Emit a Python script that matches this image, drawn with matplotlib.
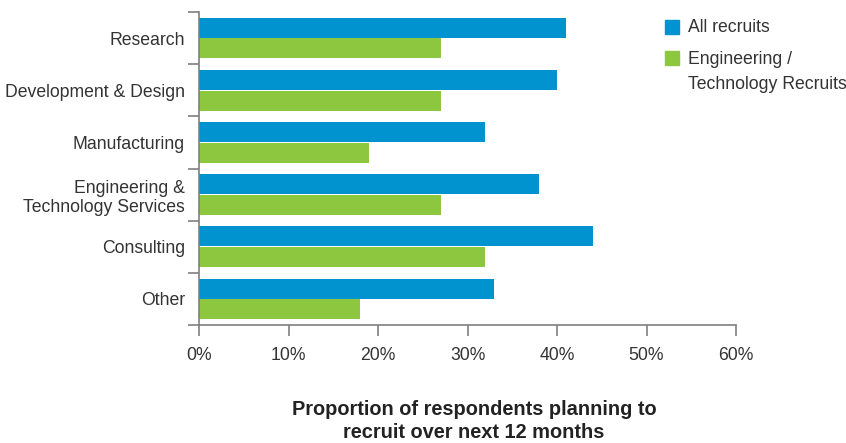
import numpy as np
import matplotlib
matplotlib.use("Agg")
import matplotlib.pyplot as plt
from matplotlib.patches import Rectangle

plt.rcParams['font.family'] = ['Liberation Sans', 'DejaVu Sans']

categories = ["Research", "Development & Design", "Manufacturing",
              "Engineering &\nTechnology Services", "Consulting", "Other"]
all_recruits = [41, 40, 32, 38, 44, 33]
eng_recruits = [27, 27, 19, 27, 32, 18]
xticks = [0, 10, 20, 30, 40, 50, 60]
xtick_labels = ["0%", "10%", "20%", "30%", "40%", "50%", "60%"]
legend_labels = ["All recruits", "Engineering /\nTechnology Recruits"]

BLUE = "#0093D0"
GREEN = "#8DC63F"
GREY = "#7f7f7f"
TEXT = "#333333"

W, H = 846, 443
fig = plt.figure(figsize=(W / 100, H / 100), dpi=100)
ax = fig.add_axes([199/W, 1 - 325/H, (736 - 199)/W, (325 - 12)/H])

y = np.arange(len(categories))
h = 0.385
ax.barh(y - h/2 - 0.005, all_recruits, height=h, color=BLUE)
ax.barh(y + h/2 + 0.005, eng_recruits, height=h, color=GREEN)

ax.set_xlim(0, 60)
ax.set_ylim(len(categories) - 0.5, -0.5)
ax.set_xticks(xticks)
ax.set_xticklabels(xtick_labels, fontsize=12.7, color=TEXT)

# category labels centred, ticks at the group boundaries
ax.set_yticks(y)
ax.set_yticklabels(categories, fontsize=12.7, color=TEXT, ha='right',
                   multialignment='right')
ax.tick_params(axis='y', length=0, pad=10)
ax.set_yticks(np.arange(len(categories) + 1) - 0.5, minor=True)
ax.tick_params(axis='y', which='minor', length=8, color=GREY, width=1.2)
ax.tick_params(axis='x', length=8, color=GREY, width=1.2, pad=8)

for s in ['top', 'right']:
    ax.spines[s].set_visible(False)
for s in ['left', 'bottom']:
    ax.spines[s].set_color(GREY)
    ax.spines[s].set_linewidth(1.2)

fig.text(474/W, 1 - 421/H, "Proportion of respondents planning to\nrecruit over next 12 months",
         ha='center', va='center', fontsize=14.4, fontweight='bold', color='#222222',
         linespacing=1.25)

# legend drawn by hand to match spacing
for (top, text_y), color, label in zip([(20, 28), (51, 72)], [BLUE, GREEN], legend_labels):
    fig.add_artist(Rectangle((665/W, 1 - (top + 14)/H), 14/W, 14/H,
                             transform=fig.transFigure, color=color))
    fig.text(688/W, 1 - text_y/H, label, ha='left', va='center',
             fontsize=12.7, color=TEXT, linespacing=1.55)

fig.savefig("out.png", dpi=100)
